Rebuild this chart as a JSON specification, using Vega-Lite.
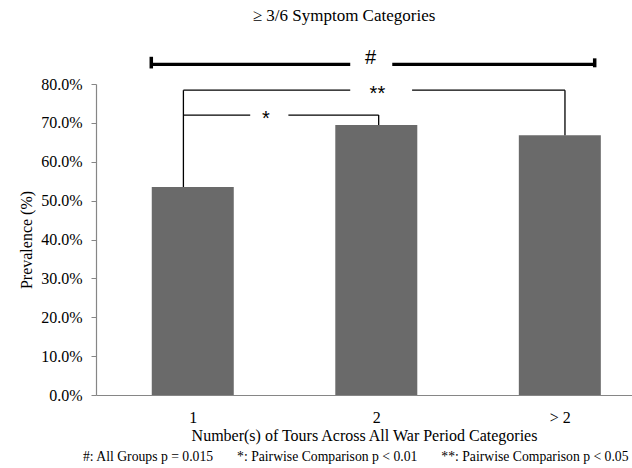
{
  "$schema": "https://vega.github.io/schema/vega-lite/v6.json",
  "width": 536,
  "height": 311,
  "autosize": "none",
  "padding": {"left": 96, "top": 84, "right": 0, "bottom": 73},
  "background": "white",
  "title": {
    "text": "≥ 3/6 Symptom Categories",
    "font": "'Liberation Serif', 'Times New Roman', serif",
    "fontSize": 17,
    "fontWeight": "normal",
    "color": "black",
    "anchor": "middle",
    "dx": -20,
    "offset": 23
  },
  "config": {"view": {"stroke": null}, "font": "'Liberation Serif', 'Times New Roman', serif"},
  "encoding": {
    "x": {
      "field": "tours",
      "type": "quantitative",
      "scale": {"domain": [0.5, 3.366], "nice": false, "zero": false},
      "axis": {
        "values": [1, 2, 3],
        "labelExpr": "datum.value == 3 ? '> 2' : datum.label",
        "title": "Number(s) of Tours Across All War Period Categories",
        "ticks": false,
        "grid": false,
        "domainColor": "#868686",
        "domainWidth": 1.2,
        "labelFont": "'Liberation Serif', 'Times New Roman', serif",
        "labelFontSize": 16,
        "labelColor": "black",
        "labelPadding": 14,
        "titleFont": "'Liberation Serif', 'Times New Roman', serif",
        "titleFontSize": 16,
        "titleFontWeight": "normal",
        "titleColor": "black",
        "titlePadding": 2
      }
    },
    "y": {
      "field": "prevalence",
      "type": "quantitative",
      "scale": {"domain": [0, 80], "nice": false, "zero": true},
      "axis": {
        "values": [0, 10, 20, 30, 40, 50, 60, 70, 80],
        "labelExpr": "format(datum.value, '.1f') + '%'",
        "title": "Prevalence (%)",
        "grid": false,
        "tickSize": 5,
        "tickColor": "#868686",
        "domainColor": "#868686",
        "domainWidth": 1.2,
        "labelFont": "'Liberation Serif', 'Times New Roman', serif",
        "labelFontSize": 16,
        "labelColor": "black",
        "labelPadding": 9,
        "titleFont": "'Liberation Serif', 'Times New Roman', serif",
        "titleFontSize": 16,
        "titleFontWeight": "normal",
        "titleColor": "black",
        "titlePadding": 6
      }
    }
  },
  "layer": [
    {
      "data": {"values": [
        {"tours": 1, "prevalence": 53.5},
        {"tours": 2, "prevalence": 69.45},
        {"tours": 3, "prevalence": 66.8}
      ]},
      "mark": {"type": "bar", "width": 82, "color": "#6a6a6a", "orient": "vertical"}
    },
    {
      "data": {"values": [
        {"tours": 0.949, "tours_end": 0.949, "prevalence": 53.5, "prevalence_end": 78.4},
        {"tours": 0.949, "tours_end": 1.313, "prevalence": 72.0, "prevalence_end": 72.0},
        {"tours": 1.521, "tours_end": 2.013, "prevalence": 72.0, "prevalence_end": 72.0},
        {"tours": 2.013, "tours_end": 2.013, "prevalence": 72.0, "prevalence_end": 69.45},
        {"tours": 0.949, "tours_end": 1.858, "prevalence": 78.4, "prevalence_end": 78.4},
        {"tours": 2.195, "tours_end": 3.028, "prevalence": 78.4, "prevalence_end": 78.4},
        {"tours": 3.028, "tours_end": 3.028, "prevalence": 78.4, "prevalence_end": 66.8}
      ]},
      "mark": {"type": "rule", "color": "black", "strokeWidth": 1.3, "clip": false},
      "encoding": {
        "x2": {"field": "tours_end"},
        "y2": {"field": "prevalence_end"}
      }
    },
    {
      "data": {"values": [
        {"tours": 0.775, "tours_end": 1.858, "prevalence": 85.07, "prevalence_end": 85.07},
        {"tours": 2.087, "tours_end": 3.19, "prevalence": 85.07, "prevalence_end": 85.07}
      ]},
      "mark": {"type": "rule", "color": "black", "strokeWidth": 3.2, "clip": false},
      "encoding": {
        "x2": {"field": "tours_end"},
        "y2": {"field": "prevalence_end"}
      }
    },
    {
      "data": {"values": [
        {"tours": 0.774, "tours_end": 0.774, "prevalence": 84.0, "prevalence_end": 87.0},
        {"tours": 3.19, "tours_end": 3.19, "prevalence": 84.3, "prevalence_end": 86.6}
      ]},
      "mark": {"type": "rule", "color": "black", "strokeWidth": 3.5, "clip": false},
      "encoding": {
        "x2": {"field": "tours_end"},
        "y2": {"field": "prevalence_end"}
      }
    },
    {
      "data": {"values": [
        {"label": "#", "tours": 1.969, "prevalence": 87.7},
        {"label": "**", "tours": 2.006, "prevalence": 78.4},
        {"label": "*", "tours": 1.398, "prevalence": 72.0}
      ]},
      "mark": {"type": "text", "font": "'Liberation Sans', Arial, sans-serif", "fontSize": 20, "color": "black", "baseline": "middle", "align": "center", "dy": 4, "clip": false},
      "encoding": {
        "text": {"field": "label"}
      }
    },
    {
      "data": {"values": [
        {"note": "#: All Groups p = 0.015\u00a0\u00a0\u00a0\u00a0\u00a0\u00a0\u00a0*: Pairwise Comparison p < 0.01\u00a0\u00a0\u00a0\u00a0\u00a0\u00a0\u00a0**: Pairwise Comparison p < 0.05", "tours": 1.888, "prevalence": -16.0}
      ]},
      "mark": {"type": "text", "font": "'Liberation Serif', 'Times New Roman', serif", "fontSize": 13.7, "color": "black", "baseline": "middle", "align": "center", "clip": false},
      "encoding": {
        "text": {"field": "note"}
      }
    }
  ]
}
